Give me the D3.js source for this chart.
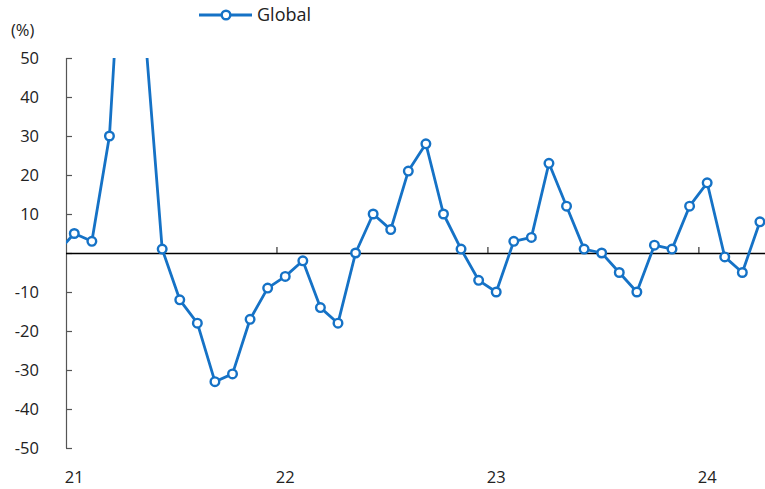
<!DOCTYPE html>
<html>
<head>
<meta charset="utf-8">
<script src="https://cdn.jsdelivr.net/npm/d3@7"></script>
<style>
  html, body { margin: 0; padding: 0; background: #fff; }
  svg { display: block; font-family: "Open Sans", "Noto Sans", sans-serif; }
</style>
</head>
<body>
<svg id="chart" width="765" height="489"></svg>
<script>
// Monthly series, Dec 2020 through Apr 2024 (year-on-year, %)
const months = [
  "2020-12",
  "2021-01","2021-02","2021-03","2021-04","2021-05","2021-06","2021-07","2021-08","2021-09","2021-10","2021-11","2021-12",
  "2022-01","2022-02","2022-03","2022-04","2022-05","2022-06","2022-07","2022-08","2022-09","2022-10","2022-11","2022-12",
  "2023-01","2023-02","2023-03","2023-04","2023-05","2023-06","2023-07","2023-08","2023-09","2023-10","2023-11","2023-12",
  "2024-01","2024-02","2024-03","2024-04"
];
const globalValues = [
  0,
  5, 3, 30, 105, 58, 1, -12, -18, -33, -31, -17, -9,
  -6, -2, -14, -18, 0, 10, 6, 21, 28, 10, 1, -7,
  -10, 3, 4, 23, 12, 1, 0, -5, -10, 2, 1, 12,
  18, -1, -5, 8
];
const yearLabels = ["21", "22", "23", "24"];
const yTicks = [50, 40, 30, 20, 10, 0, -10, -20, -30, -40, -50];
const seriesName = "Global";

const color = "#1572c6";
const svg = d3.select("#chart");

const plotL = 66, plotR = 765, plotT = 58, plotB = 448;
const monthW = 17.58;

// month index: 0 = Jan 2021
const idx = m => {
  const [yr, mo] = m.split("-").map(Number);
  return (yr - 2021) * 12 + (mo - 1);
};
const x = d3.scaleLinear().domain([-0.5, 39.5]).range([plotL - 0.5, plotL - 0.5 + 40 * monthW]);
const y = d3.scaleLinear().domain([-50, 50]).range([plotB, plotT]);

const data = months.map((m, i) => ({ i: idx(m), v: globalValues[i] }));

svg.append("defs").append("clipPath").attr("id", "plot")
  .append("rect").attr("x", plotL).attr("y", plotT).attr("width", plotR - plotL).attr("height", plotB - plotT);

// y axis with ticks pointing into the plot
const yAxis = svg.append("g")
  .attr("transform", `translate(${plotL},0)`)
  .call(d3.axisRight(y).tickValues(yTicks).tickSize(6).tickFormat(""));
yAxis.select(".domain").attr("stroke", "#555").attr("stroke-width", 1.2).attr("d", `M0.5,${plotT}V${plotB}`);
yAxis.selectAll(".tick line").attr("stroke", "#555").attr("stroke-width", 1.2);

svg.append("g").selectAll("text")
  .data(yTicks.filter(t => t !== 0))
  .join("text")
  .attr("x", 39).attr("y", d => y(d)).attr("dy", "0.35em")
  .attr("text-anchor", "end").attr("font-size", 16.5).attr("fill", "#222")
  .text(d => d);

svg.append("text").attr("x", 11).attr("y", 36)
  .attr("font-size", 16.5).attr("fill", "#222").text("(%)");

// zero line with year boundary ticks
const boundaries = yearLabels.map((_, k) => k * 12 - 0.5).filter(b => b > -0.5);
const xAxis = svg.append("g")
  .attr("transform", `translate(0,${y(0)})`)
  .call(d3.axisTop(x).tickValues(boundaries).tickSize(6).tickFormat(""));
xAxis.select(".domain").attr("stroke", "#000").attr("stroke-width", 1.3).attr("d", `M${plotL},0.5H${plotR}`);
xAxis.selectAll(".tick line").attr("stroke", "#333").attr("stroke-width", 1.2);

svg.append("g").selectAll("text")
  .data(yearLabels)
  .join("text")
  .attr("x", (d, k) => x(k * 12)).attr("y", 483)
  .attr("text-anchor", "middle").attr("font-size", 16.5).attr("fill", "#222")
  .text(d => d);

// series line and markers
const plot = svg.append("g").attr("clip-path", "url(#plot)");
plot.append("path")
  .datum(data)
  .attr("fill", "none").attr("stroke", color).attr("stroke-width", 2.8)
  .attr("stroke-linejoin", "round")
  .attr("d", d3.line().x(d => x(d.i)).y(d => y(d.v)));
plot.selectAll("circle")
  .data(data)
  .join("circle")
  .attr("cx", d => x(d.i)).attr("cy", d => y(d.v)).attr("r", 4.3)
  .attr("fill", "#fff").attr("stroke", color).attr("stroke-width", 2.4);

// legend
const lg = svg.append("g");
lg.append("line").attr("x1", 199).attr("x2", 252).attr("y1", 15).attr("y2", 15)
  .attr("stroke", color).attr("stroke-width", 2.8);
lg.append("circle").attr("cx", 226).attr("cy", 15).attr("r", 4.3)
  .attr("fill", "#fff").attr("stroke", color).attr("stroke-width", 2.4);
lg.append("text").attr("x", 257).attr("y", 15).attr("dy", "0.35em")
  .attr("font-size", 18).attr("fill", "#222").text(seriesName);
</script>
</body>
</html>
